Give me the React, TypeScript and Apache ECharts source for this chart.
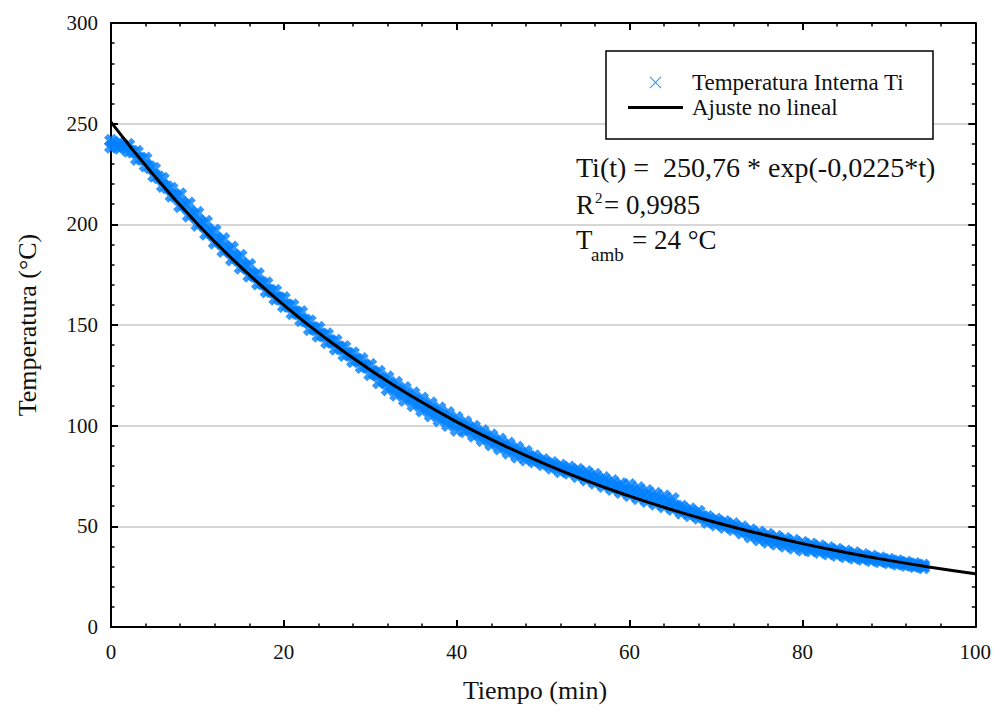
import React, { useEffect, useRef } from "react";
import * as echarts from "echarts";

const FONT = "'Liberation Serif', 'Times New Roman', serif";
const TEXT = "#111";
const BLUE = "#0080ff";

// Time (min) of the upper/lower rows of the measured band
const minutos = [0,1,2,3,4,5,6,7,8,9,10,11,12,13,14,15,16,17,18,19,20,21,22,23,24,25,26,27,28,29,30,31,32,33,34,35,36,37,38,39,40,41,42,43,44,45,46,47,48,49,50,51,52,53,54,55,56,57,58,59,60,61,62,63,64,65,66,67,68,69,70,71,72,73,74,75,76,77,78,79,80,81,82,83,84,85,86,87,88,89,90,91,92,93,94];
// Measured internal temperature Ti, upper edge of the band (°C)
const tiSup = [241.5,240.5,239.5,236.0,232.7,227.6,222.6,217.7,215.0,210.3,
205.7,201.3,196.9,192.7,188.5,184.4,179.9,175.3,170.7,167.0,
163.4,159.8,156.4,151.9,148.6,145.4,142.2,139.1,136.0,133.1,
130.2,126.8,124.0,121.3,118.7,116.1,113.5,111.1,108.6,106.3,
103.9,101.7,99.5,97.3,95.2,93.1,91.1,89.1,87.1,84.8,
82.9,81.5,80.2,79.2,78.1,77.0,75.6,74.0,72.5,71.0,
70.5,69.0,67.6,66.2,64.9,63.6,59.8,58.5,57.3,54.6,
53.4,52.2,51.1,49.6,48.1,46.9,45.8,44.8,43.8,42.9,
41.9,41.0,40.1,39.2,38.4,37.5,36.7,35.8,35.0,34.2,
33.4,32.7,32.0,31.3,30.6];
// Measured internal temperature Ti, lower edge of the band (°C)
const tiInf = [238.5,238.0,236.5,232.5,229.2,224.1,219.1,214.2,209.0,204.3,
199.7,195.3,190.9,186.7,182.5,178.4,174.4,170.6,166.7,163.0,
159.4,155.8,152.4,147.9,144.6,141.4,138.2,135.1,132.0,129.1,
125.5,121.5,118.0,115.3,112.7,110.1,107.5,105.1,102.6,100.3,
97.9,97.2,95.0,92.8,90.7,88.6,86.6,84.6,83.2,82.2,
80.8,79.1,77.3,76.6,74.9,73.2,71.6,70.0,68.5,67.0,
65.5,64.0,62.6,61.2,59.9,58.6,56.8,55.5,54.3,52.1,
50.9,49.7,48.6,46.8,44.9,43.4,42.3,41.3,40.3,39.4,
38.4,38.0,37.3,36.5,35.8,35.1,34.4,33.8,33.2,32.6,
32.0,31.4,30.8,30.2,29.6];
// Intermediate readings (half minutes)
const minutosMed = [0.5,1.5,2.5,3.5,4.5,5.5,6.5,7.5,8.5,9.5,10.5,11.5,12.5,13.5,14.5,15.5,16.5,17.5,18.5,19.5,20.5,21.5,22.5,23.5,24.5,25.5,26.5,27.5,28.5,29.5,30.5,31.5,32.5,33.5,34.5,35.5,36.5,37.5,38.5,39.5,40.5,41.5,42.5,43.5,44.5,45.5,46.5,47.5,48.5,49.5,50.5,51.5,52.5,53.5,54.5,55.5,56.5,57.5,58.5,59.5,60.5,61.5,62.5,63.5,64.5,65.5,66.5,67.5,68.5,69.5,70.5,71.5,72.5,73.5,74.5,75.5,76.5,77.5,78.5,79.5,80.5,81.5,82.5,83.5,84.5,85.5,86.5,87.5,88.5,89.5,90.5,91.5,92.5,93.5];
const tiMed = [239.6,238.6,236.1,232.6,228.4,223.4,218.4,214.0,209.7,205.0,
200.5,196.1,191.8,187.6,183.5,179.3,175.0,170.8,166.9,163.2,
159.6,156.1,152.2,148.3,145.0,141.8,138.7,135.6,132.6,129.5,
126.0,122.6,119.7,117.0,114.4,111.8,109.3,106.9,104.5,102.1,
100.2,98.4,96.2,94.0,91.9,89.9,87.9,86.0,84.3,82.7,
81.1,79.5,78.3,77.2,75.8,74.4,72.8,71.3,69.8,68.5,
67.3,65.8,64.4,63.1,61.8,59.7,57.7,56.4,54.6,52.8,
51.6,50.4,49.0,47.4,45.8,44.6,43.6,42.6,41.6,40.7,
39.8,39.1,38.3,37.5,36.7,35.9,35.2,34.5,33.8,33.1,
32.4,31.7,31.1,30.4];

// Non-linear fit curve
const tiempoAjuste = [0,5,10,15,20,25,30,35,40,45,50,55,60,65,70,75,80,85,90,95,100];
const tiAjuste = [250.8,224.1,200.2,178.9,159.9,142.9,127.7,114.1,101.9,91.1,81.4,72.7,65.0,58.1,51.9,46.4,41.4,37.0,33.1,29.6,26.5];

const xTicks = { min: 0, max: 100, interval: 20 };
const yTicks = { min: 0, max: 300, interval: 50 };

const SERIES_SCATTER = "Temperatura Interna Ti";
const SERIES_FIT = "Ajuste no lineal";

const X_THICK = "path://M0,2.8L2.8,0L5,2.2L7.2,0L10,2.8L7.8,5L10,7.2L7.2,10L5,7.8L2.8,10L0,7.2L2.2,5Z";
const X_THIN = "path://M0,0.7L0.7,0L5,4.3L9.3,0L10,0.7L5.7,5L10,9.3L9.3,10L5,5.7L0.7,10L0,9.3L4.3,5Z";
const LINE_ICON = "path://M0,4.4L55,4.4L55,7.6L0,7.6Z";

function axisBase(showLabel: boolean, margin: number) {
  return {
    type: "value",
    axisLine: { show: true, onZero: false, lineStyle: { color: "#000", width: 2 } },
    axisTick: { show: true, inside: true, length: 7, lineStyle: { color: "#000", width: 2 } },
    minorTick: { show: true, splitNumber: 5, length: 3.5, lineStyle: { color: "#000", width: 1.5 } },
    axisLabel: { show: showLabel, margin, fontSize: 21, fontFamily: FONT, color: TEXT },
    splitLine: { show: false },
  };
}

export default function App() {
  const ref = useRef<HTMLDivElement>(null);
  useEffect(() => {
    const chart = echarts.init(ref.current!, null, { renderer: "svg" });
    const scatterData: number[][] = [];
    minutos.forEach((t, i) => {
      scatterData.push([t, tiSup[i]]);
      scatterData.push([t, tiInf[i]]);
    });
    minutosMed.forEach((t, i) => scatterData.push([t, tiMed[i]]));
    const fitData = tiempoAjuste.map((t, i) => [t, tiAjuste[i]]);

    const option: any = {
      animation: false,
      backgroundColor: "#fff",
      grid: { left: 111, right: 17, top: 23, bottom: 92, containLabel: false },
      xAxis: [
        { ...axisBase(true, 14), ...xTicks, position: "bottom" },
        { ...axisBase(false, 14), ...xTicks, position: "top" },
      ],
      yAxis: [
        {
          ...axisBase(true, 13),
          ...yTicks,
          position: "left",
          splitLine: { show: true, lineStyle: { color: "#c8c8c8", width: 1.5 } },
        },
        { ...axisBase(false, 13), ...yTicks, position: "right" },
      ],
      legend: {
        show: true,
        orient: "vertical",
        left: 623,
        top: 65,
        z: 6,
        itemWidth: 55,
        itemHeight: 12,
        itemGap: 0,
        selectedMode: false,
        textStyle: { fontSize: 23, fontFamily: FONT, color: TEXT, lineHeight: 25, padding: [0, 0, 0, 4] },
        data: [
          { name: SERIES_SCATTER, icon: X_THIN, itemStyle: { color: BLUE } },
          { name: SERIES_FIT, icon: LINE_ICON, itemStyle: { color: "#000" } },
        ],
      },
      graphic: [
        {
          type: "rect",
          z: 5,
          shape: { x: 606, y: 51, width: 327, height: 88 },
          style: { fill: "#fff", stroke: "#000", lineWidth: 1.5 },
        },
        {
          type: "text",
          z: 6,
          x: 576,
          y: 167,
          style: { text: "Ti(t) =  250,76 * exp(-0,0225*t)", font: `28px ${FONT}`, fill: TEXT, verticalAlign: "middle", align: "left" },
        },
        { type: "text", z: 6, x: 576, y: 205, style: { text: "R", font: `27px ${FONT}`, fill: TEXT, verticalAlign: "middle" } },
        { type: "text", z: 6, x: 595, y: 198, style: { text: "2", font: `15px ${FONT}`, fill: TEXT, verticalAlign: "middle" } },
        { type: "text", z: 6, x: 604, y: 205, style: { text: "= 0,9985", font: `27px ${FONT}`, fill: TEXT, verticalAlign: "middle" } },
        { type: "text", z: 6, x: 576, y: 240, style: { text: "T", font: `27px ${FONT}`, fill: TEXT, verticalAlign: "middle" } },
        { type: "text", z: 6, x: 591, y: 254, style: { text: "amb", font: `19px ${FONT}`, fill: TEXT, verticalAlign: "middle" } },
        { type: "text", z: 6, x: 632, y: 240, style: { text: "= 24 °C", font: `27px ${FONT}`, fill: TEXT, verticalAlign: "middle" } },
        {
          type: "text",
          z: 6,
          x: 535,
          y: 690,
          style: { text: "Tiempo (min)", font: `26px ${FONT}`, fill: TEXT, align: "center", verticalAlign: "middle" },
        },
        {
          type: "text",
          z: 6,
          x: 27,
          y: 325,
          rotation: Math.PI / 2,
          style: { text: "Temperatura (°C)", font: `26px ${FONT}`, fill: TEXT, align: "center", verticalAlign: "middle" },
        },
      ],
      series: [
        {
          name: SERIES_SCATTER,
          type: "scatter",
          data: scatterData,
          symbol: X_THICK,
          symbolSize: 14,
          itemStyle: { color: BLUE },
          z: 2,
        },
        {
          name: SERIES_FIT,
          type: "line",
          data: fitData,
          smooth: true,
          showSymbol: false,
          symbol: "none",
          lineStyle: { color: "#000", width: 3 },
          z: 3,
        },
      ],
    };
    chart.setOption(option);
    return () => chart.dispose();
  }, []);
  return (
    <div
      ref={ref}
      style={{ position: "absolute", left: 0, top: 0, width: 994, height: 719, background: "#fff" }}
    />
  );
}
